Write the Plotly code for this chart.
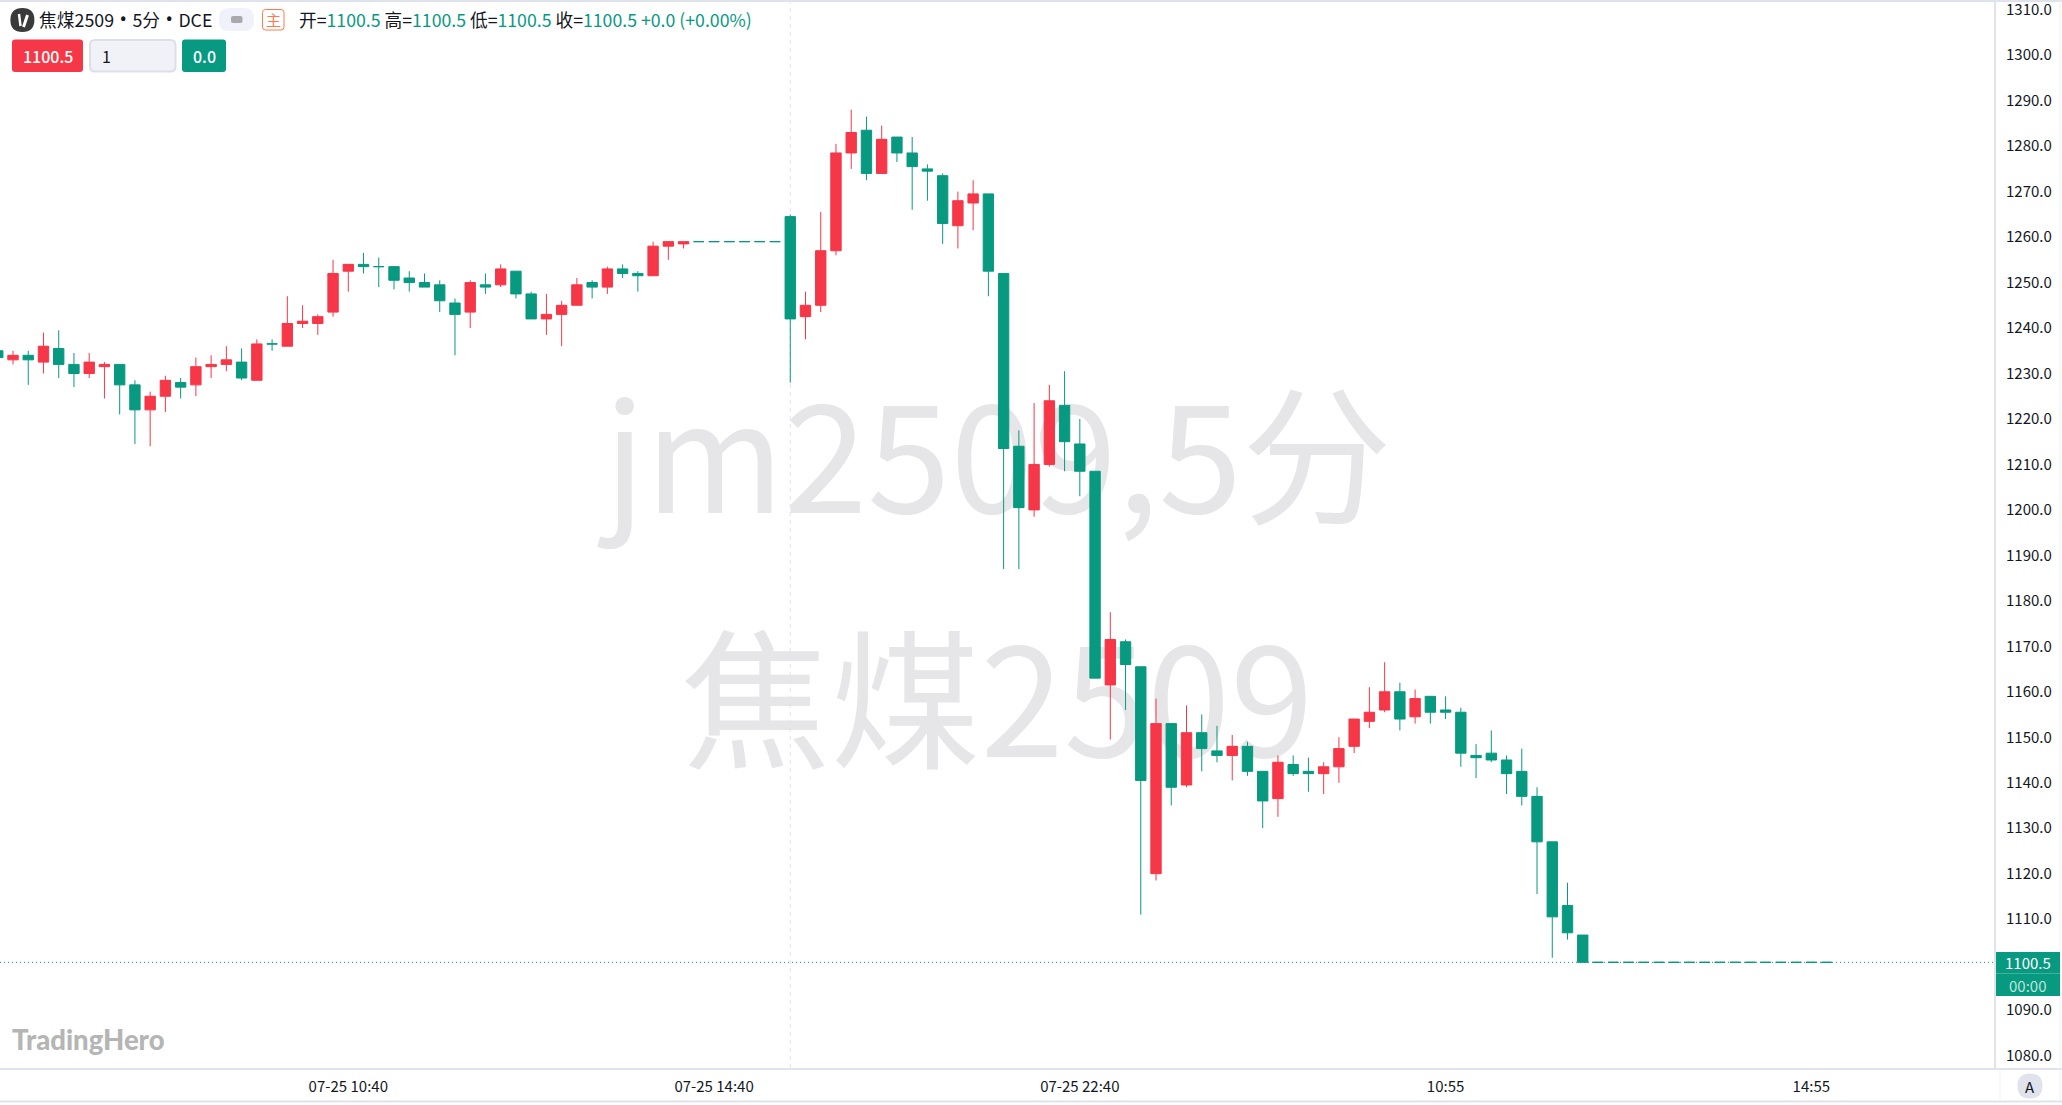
import plotly.graph_objects as go

W, H = 2062, 1105
PLOT_L, PLOT_R, PLOT_T, PLOT_B = 0, 1995, 2, 1068
GREEN = "#089981"
RED = "#F63748"
LINE = "#E0E3EB"
FONT = "Noto Sans CJK SC"

opens = [1235,1233,1234,1232.5,1235.5,1232,1230,1231.5,1232,1227.5,1222,1225,1228,1227.5,1231.5,1232,1232.5,1228.5,1236.5,1236,
         1241,1241,1243.5,1252.5,1254,1253.5,1253.5,1251,1250,1249.5,1245.5,1243.5,1249.5,1249.5,1252.5,1247.5,1242,1243,1245,1250,
         1249,1253,1252,1251.5,1258,1258.5,1259,1259,1259,1259,1259,1259,1264.5,1242.5,1245,1257,1278.5,1283.5,1274,1282,
         1278.5,1275,1273.5,1262.5,1267.5,1269.5,1252,1214,1200,1210,1223,1214.5,1208.5,1161.5,1171,1165.5,1120,1153,1139.5,1151,
         1147,1146,1148,1142.5,1136.5,1144,1142.5,1142,1143.5,1148,1153.5,1156,1160,1154.5,1159,1156,1155.5,1146,1146.5,1145,
         1142.5,1137,1127,1113,1106.5,1100.5,1100.5,1100.5,1100.5,1100.5,1100.5,1100.5,1100.5,1100.5,1100.5,1100.5,1100.5,1100.5,1100.5,1100.5,1100.5]
highs = [1235,1235,1235,1239,1239.5,1234.5,1234.5,1232.5,1232,1228.5,1226,1229.5,1229,1233.5,1234,1236,1235.5,1237.5,1237.5,1247,
         1245,1243,1255,1254,1256.5,1255.5,1253.5,1252.5,1252,1250.5,1246.5,1250.5,1252,1254,1252.5,1248,1247.5,1246,1251,1250.5,
         1253.5,1254,1252.5,1259,1259,1259,1259,1259,1259,1259,1259,1259,1265,1248,1265.5,1280.5,1288,1286.5,1284.5,1282,
         1282,1276,1274,1270,1272.5,1269.5,1252,1217.5,1223.5,1227.5,1230.5,1220,1208.5,1177.5,1171.5,1165.5,1158.5,1153,1157,1155,
         1152.5,1150.5,1149,1142.5,1146,1146,1145.5,1144.5,1150,1154,1161,1166.5,1162,1160.5,1159,1159,1156.5,1148.5,1151.5,1146,
         1147.5,1139,1127,1118,1106.5,1100.5,1100.5,1100.5,1100.5,1100.5,1100.5,1100.5,1100.5,1100.5,1100.5,1100.5,1100.5,1100.5,1100.5,1100.5,1100.5]
lows = [1233.5,1232,1227.5,1230,1229,1227,1229,1224.5,1221,1214.5,1214,1221.5,1224.5,1225,1229,1230.5,1228.5,1228.5,1235,1236,
        1240,1238.5,1242.5,1248,1252,1249,1248.5,1248,1249,1243.5,1234,1240,1247.5,1249,1246.5,1242,1238.5,1236,1245,1246.5,
        1247.5,1251,1248,1251.5,1255,1257.5,1259,1259,1259,1259,1259,1259,1228,1237.5,1243.5,1256,1275,1272.5,1274,1276.5,
        1266,1268,1258.5,1257.5,1261.5,1247,1187,1187,1198.5,1209.5,1208.5,1203,1163,1149.5,1156,1111,1118.5,1135,1139,1142.5,
        1144.5,1140.5,1141.5,1130,1132.5,1141.5,1138,1137.5,1140,1146.5,1152,1155.5,1151.5,1153,1153,1154,1143.5,1141,1144.5,1137.5,
        1135,1115.5,1101.5,1105.5,1100.5,1100.5,1100.5,1100.5,1100.5,1100.5,1100.5,1100.5,1100.5,1100.5,1100.5,1100.5,1100.5,1100.5,1100.5,1100.5,1100.5]
closes = [1233.5,1234,1233,1236,1232,1230,1232.5,1232,1227.5,1222,1225,1228.5,1227,1231.5,1232,1233,1229,1236.5,1236.5,1241,
          1241.5,1242.5,1252,1254,1253.5,1253.5,1250.5,1250,1249,1246,1243,1250,1249,1253,1247.5,1242,1243,1245,1249.5,1249,
          1253,1252,1251.5,1258,1259,1259,1259,1259,1259,1259,1259,1259,1242,1245,1257,1278.5,1283,1274,1281.5,1278.5,
          1275.5,1274.5,1263,1268,1269.5,1252.5,1213.5,1200.5,1210,1224,1215,1208.5,1163,1171.5,1166,1140.5,1153,1139,1151,1147.5,
          1146,1148,1142.5,1136,1144.5,1142,1142,1143.5,1147.5,1154,1155.5,1160,1154,1158.5,1155.5,1155.5,1146.5,1145.5,1145,1142,
          1137,1127,1110.5,1107,1100.5,1100.5,1100.5,1100.5,1100.5,1100.5,1100.5,1100.5,1100.5,1100.5,1100.5,1100.5,1100.5,1100.5,1100.5,1100.5,1100.5]
bar_index = list(range(len(opens)))
date_tick_bars = [23, 47, 71, 95, 119]
date_tick_labels = ["07-25 10:40", "07-25 14:40", "07-25 22:40", "10:55", "14:55"]
price_ticks = list(range(1080, 1320, 10))
last_price = 1100.5
session_bar = 52
header_parts = ["焦煤2509", "5分", "DCE"]
ohlc_labels = ["开", "高", "低", "收"]
ohlc_values = ["1100.5", "1100.5", "1100.5", "1100.5"]

PW, PH = PLOT_R - PLOT_L, PLOT_B - PLOT_T


def fx(p):
    return (p - PLOT_L) / PW


def fy(p):
    return 1 - (p - PLOT_T) / PH


def rrect(x0, y0, x1, y1, r):
    a, b, c, d = fx(x0), fx(x1), fy(y0), fy(y1)
    rx, ry = r / PW, r / PH
    return (f"M{a+rx},{c} L{b-rx},{c} Q{b},{c} {b},{c-ry} L{b},{d+ry} Q{b},{d} {b-rx},{d} "
            f"L{a+rx},{d} Q{a},{d} {a},{d+ry} L{a},{c-ry} Q{a},{c} {a+rx},{c} Z")


fig = go.Figure()
for want_up, colour in ((True, RED), (False, GREEN)):
    keep = [i for i in bar_index if (closes[i] > opens[i]) == want_up]
    style = dict(line=dict(color=colour, width=1), fillcolor=colour)
    fig.add_trace(go.Candlestick(
        x=keep,
        open=[opens[i] for i in keep],
        high=[highs[i] for i in keep],
        low=[lows[i] for i in keep],
        close=[closes[i] for i in keep],
        increasing=style, decreasing=style, showlegend=False,
    ))

shapes = []


def box(x0, y0, x1, y1, fill, r=0, line=None, lw=0, layer="above"):
    shapes.append(dict(type="path", path=rrect(x0, y0, x1, y1, r), xref="paper", yref="paper",
                       fillcolor=fill, line=dict(color=line or fill, width=lw), layer=layer))


def rule(x0, y0, x1, y1, colour=LINE, width=1, layer="above"):
    shapes.append(dict(type="line", xref="paper", yref="paper", x0=fx(x0), x1=fx(x1), y0=fy(y0), y1=fy(y1),
                       line=dict(color=colour, width=width), layer=layer))


# watermarks, behind the candles
for text, x0, y0, x1, y1, size in (("jm2509,5分", 590, 376, 1406, 566, 150),
                                   ("焦煤2509", 680, 620, 1314, 810, 150)):
    shapes.append(dict(type="rect", xref="paper", yref="paper", x0=fx(x0), x1=fx(x1), y0=fy(y0), y1=fy(y1),
                       line=dict(width=0), fillcolor="rgba(0,0,0,0)", layer="below",
                       label=dict(text=text, textposition="middle center",
                                  font=dict(family=FONT, size=size, color="#E6E6E8"))))

shapes.append(dict(type="line", xref="x", yref="paper", x0=session_bar, x1=session_bar, y0=0, y1=1,
                   line=dict(color=LINE, width=1, dash="4px,4px"), layer="below"))
shapes.append(dict(type="line", xref="paper", yref="y", x0=0, x1=1, y0=last_price, y1=last_price,
                   line=dict(color=GREEN, width=1, dash="1px,3px"), layer="above"))

# frame
rule(0, 1, W, 1, LINE, 2)
rule(1995, 0, 1995, 1069, LINE, 2)
rule(0, 1069, W, 1069, LINE, 2)
rule(0, 1101.5, W, 1101.5, LINE, 2)
rule(2060, 0, 2060, 1101, "#EEF0F4", 1)
rule(2000, 1070, 2000, 1101, "#F2F3F6", 1)

# header widgets
box(10.4, 8, 34.4, 32, "#3A3A3A", 12)
rule(19, 14, 20.5, 26, "#FFFFFF", 2.5)
rule(23.5, 27, 27.5, 15, "#FFFFFF", 3)
box(219, 8, 254, 31, "#F0F1FA", 10)
box(231, 16, 242.5, 23, "#A9A9AD", 2)
box(262.5, 9.5, 284, 30, "#FFFFFF", 3, "#FF7A4D", 1)
box(12, 39.5, 83, 72, RED, 3)
box(90, 40, 175.5, 71.5, "#F1F2F7", 5, "#DCDFE8", 2)
box(182, 39.5, 226, 72, GREEN, 3)

# last price tag and auto button
box(1996, 952, 2060, 996, GREEN, 0)
rule(1996, 973.5, 2060, 973.5, "#3DB39E", 1)
box(2017.5, 1073.5, 2042.5, 1098.5, LINE, 12.5)


def note(text, x, y, size=14, colour="#131722", anchor="left", family=FONT, weight="normal"):
    return dict(text=text, x=fx(x), y=fy(y), xref="paper", yref="paper", xanchor=anchor, yanchor="middle",
                showarrow=False, font=dict(family=family, size=size, color=colour, weight=weight),
                borderpad=0, borderwidth=0)


bullet = '<span style="font-family:Roboto;font-size:22px"> • </span>'
ohlc = " ".join(f'{k}=<span style="color:{GREEN}">{v}</span>' for k, v in zip(ohlc_labels, ohlc_values))
annotations = [
    note(bullet.join(header_parts), 39, 18.5, 17.8),
    note("主", 273, 19.5, 15, "#FF7A4D", "center"),
    note(f'{ohlc} <span style="color:{GREEN}">+0.0 (+0.00%)</span>', 299, 18.5, 17.7),
    note("1100.5", 47.5, 55.5, 16, "#FFFFFF", "center", FONT, 500),
    note("1", 102, 55.5, 16),
    note("0.0", 204, 55.5, 16, "#FFFFFF", "center", FONT, 500),
    note("1100.5", 2027.5, 962.5, 15, "#FFFFFF", "center"),
    note("00:00", 2027.5, 985, 15, "#BDE6DE", "center"),
    note("A", 2030, 1086, 15, "#131722", "center"),
    note("TradingHero", 12, 1039, 27.5, "#B5B5B5", "left", "Lato", 900),
]

fig.update_layout(
    width=W, height=H, autosize=False,
    margin=dict(l=PLOT_L, r=W - PLOT_R, t=PLOT_T, b=H - PLOT_B, pad=0, autoexpand=False),
    paper_bgcolor="#FFFFFF", plot_bgcolor="rgba(0,0,0,0)",
    font=dict(family=FONT, size=15, color="#131722"),
    showlegend=False, shapes=shapes, annotations=annotations,
    boxgap=0.32, boxgroupgap=0,
    xaxis=dict(range=[0.147, 131.05], rangeslider=dict(visible=False), showgrid=False, zeroline=False,
               tickmode="array", tickvals=date_tick_bars, ticktext=date_tick_labels, tickangle=0,
               ticks="outside", ticklen=5, tickcolor="rgba(0,0,0,0)", showline=False, automargin=False),
    yaxis=dict(range=[1077.26, 1311.7], side="right", showgrid=False, zeroline=False,
               tickmode="array", tickvals=price_ticks, ticktext=[f"{v:.1f}" for v in price_ticks],
               ticks="outside", ticklen=7, tickcolor="rgba(0,0,0,0)", showline=False,
               ticklabeloverflow="allow", automargin=False),
)

fig.write_html("out.html", config=dict(displayModeBar=False),
               post_script="document.body.style.margin='0';document.body.style.overflow='hidden';")
